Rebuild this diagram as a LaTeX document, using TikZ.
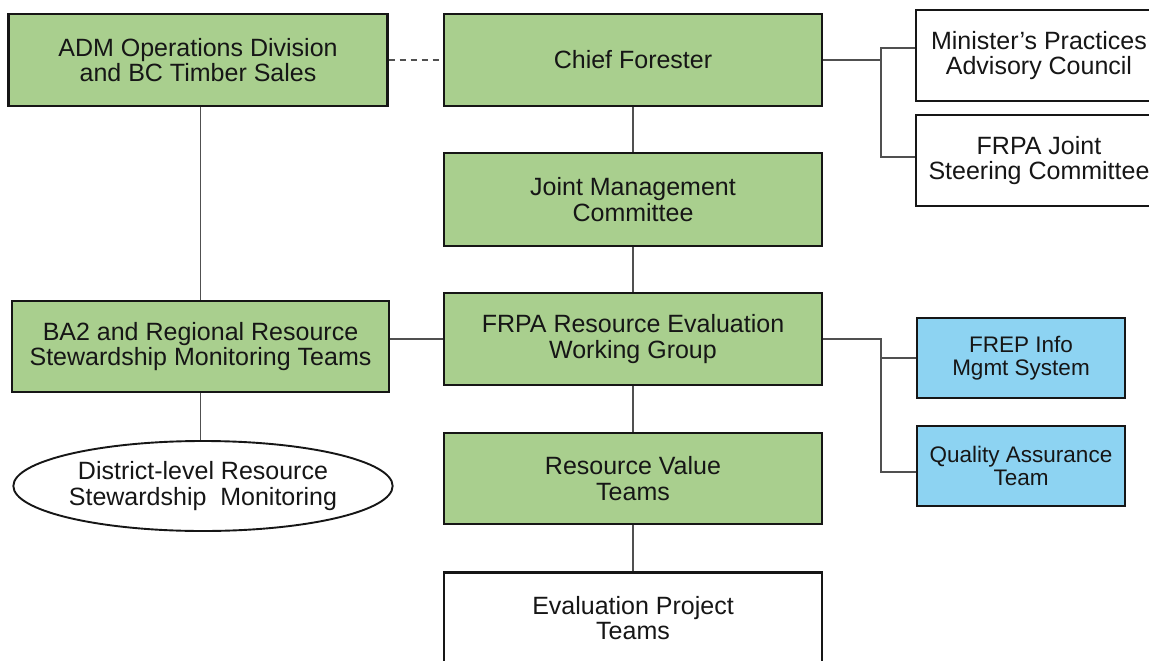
\documentclass[tikz,border=0pt]{standalone}
\usepackage{fontspec}
\setmainfont{Liberation Sans}
\usetikzlibrary{shapes.geometric}
\definecolor{boxgreen}{RGB}{169,207,142}
\definecolor{boxblue}{RGB}{141,211,242}
\definecolor{inkc}{RGB}{22,22,22}
\definecolor{linec}{RGB}{80,80,80}
\begin{document}
\begin{tikzpicture}[x=1pt,y=-1pt,
  box/.style={draw=inkc, line width=2.4pt, align=center, inner sep=0pt,
    font=\fontsize{25}{25.5}\selectfont, text=inkc},
  greenbox/.style={box, fill=boxgreen, minimum width=378pt, minimum height=92pt},
  whitebox/.style={box, fill=white, minimum width=378pt, minimum height=91pt},
  sidebox/.style={box, fill=white, minimum width=246pt, minimum height=91pt},
  bluebox/.style={box, fill=boxblue, line width=2pt, minimum width=208pt, minimum height=80pt,
    font=\fontsize{22.5}{23}\selectfont},
  ovalbox/.style={box, ellipse, fill=white, line width=1.9pt, minimum width=377pt, minimum height=90pt},
  conn/.style={draw=linec, line width=1.7pt},
  dashconn/.style={conn, dash pattern=on 6pt off 5pt}
]
\useasboundingbox (0,0) rectangle (1149,661);
\clip (0,0) rectangle (1149,661);
\fill[white] (0,0) rectangle (1149,661);

% nodes
\node[greenbox, minimum width=379pt] (adm) at (198,60) {ADM Operations Division\\and BC Timber Sales};
\node[greenbox] (chief) at (633,60) {Chief Forester};
\node[sidebox] (mpac) at (1039,55.5) {Minister’s Practices\\Advisory Council};
\node[sidebox] (frpaj) at (1039,160.5) {FRPA Joint\\Steering Committee};
\node[greenbox, minimum height=93pt] (jmc) at (633,199.5) {Joint Management\\Committee};
\node[greenbox] (frep) at (633,339) {FRPA Resource Evaluation\\Working Group};
\node[greenbox, minimum width=377pt, minimum height=91pt] (ba2) at (200.5,346.5) {BA2 and Regional Resource\\Stewardship Monitoring Teams};
\node[ovalbox] (ell) at (203,486) {District-level Resource\\Stewardship\ \ Monitoring};
\node[bluebox] (info) at (1021,358) {FREP Info\\Mgmt System};
\node[bluebox] (qa) at (1021,466) {Quality Assurance\\Team};
\node[greenbox, minimum height=91pt] (rvt) at (633,478.5) {Resource Value\\Teams};
\node[whitebox] (ept) at (633,618) {Evaluation Project\\Teams};

% junction coordinates
\coordinate (j1a) at (881,48);
\coordinate (j1b) at (881,157);
\coordinate (j2b) at (881,472);

% connectors
\draw[dashconn] (adm.east) -- (chief.west);
\draw[conn] (ba2.north) -- (ba2.north |- adm.south);
\draw[conn] (ba2.south) -- (ba2.south |- ell.north);
\draw[conn] (frep.west) -- (frep.west -| ba2.east);
\draw[conn] (chief.south) -- (jmc.north);
\draw[conn] (jmc.south) -- (frep.north);
\draw[conn] (frep.south) -- (rvt.north);
\draw[conn] (rvt.south) -- (ept.north);
\draw[conn] (chief.east) -- (chief.east -| j1a);
\draw[conn] (mpac.west |- j1a) -- (j1a) -- (j1b) -- (frpaj.west |- j1b);
\draw[conn] (frep.east) -| (j2b) -- (qa.west |- j2b);
\draw[conn] (j2b |- info.west) -- (info.west);
\end{tikzpicture}
\end{document}
